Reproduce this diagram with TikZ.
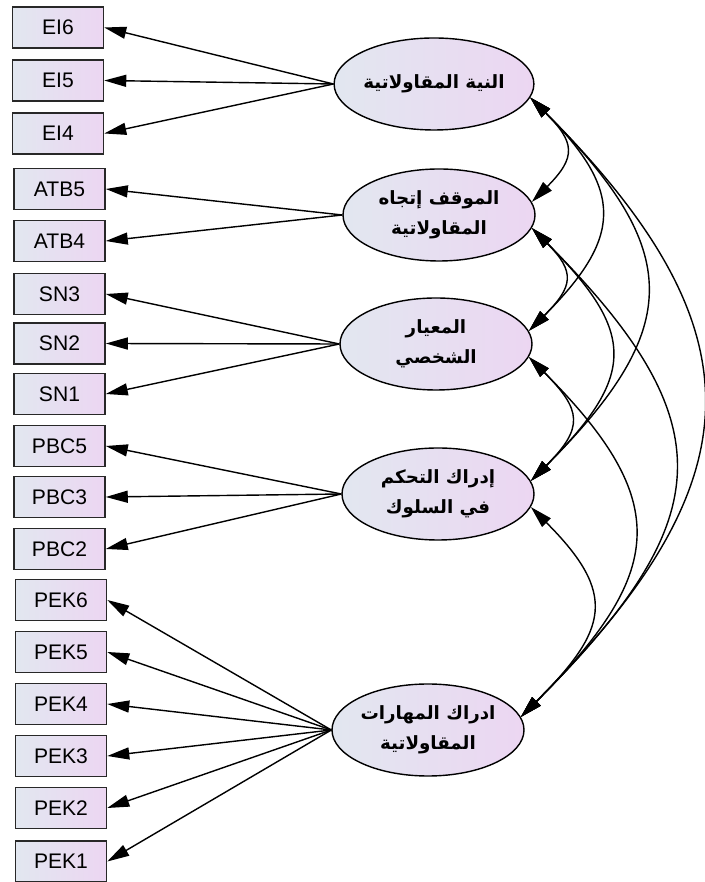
\documentclass[tikz,border=0pt]{standalone}
\usepackage{fontspec}
\setmainfont{Liberation Sans}
\newfontfamily\arabicfont[Script=Arabic]{DejaVu Sans}
\TeXXeTstate=1
\usetikzlibrary{arrows.meta,shapes.geometric}

% Changing color 226 231 240 / 236 214 242
\definecolor{r226g231b240}{rgb}{0.886275,0.905882,0.941176}
\definecolor{r236g214b242}{rgb}{0.925490,0.839216,0.949020}
\definecolor{r40g40b40}{rgb}{0.156863,0.156863,0.156863}

\tikzset{
  obsbox/.style={draw=r40g40b40, line width=1.1pt, left color=r226g231b240, right color=r236g214b242,
    minimum width=2.275cm, minimum height=1.025cm, inner sep=0pt, font=\fontsize{15}{18}\selectfont},
  latent/.style={ellipse, draw, line width=1pt, left color=r226g231b240, right color=r236g214b242,
    minimum width=4.8cm, minimum height=2.3cm, inner sep=0pt, align=center,
    font=\arabicfont\bfseries\fontsize{13}{21}\selectfont},
  loading/.style={-{Triangle[length=5.5mm,width=3mm]}, line width=1pt},
  cov/.style={{Triangle[length=5.5mm,width=3mm]}-{Triangle[length=5.5mm,width=3mm]},
    line width=1pt, out=-45, in=45, looseness=1.5}
}

\begin{document}
\begin{tikzpicture}
  \useasboundingbox (0,0) rectangle (17.600000,22.050000);

  % Drawing box EI
  \node[obsbox] (EI6) at (1.450000,21.362500) {EI6};
  \node[obsbox] (EI5) at (1.450000,20.037500) {EI5};
  \node[obsbox] (EI4) at (1.450000,18.712500) {EI4};

  % Drawing box ATB
  \node[obsbox] (ATB5) at (1.487500,17.325000) {ATB5};
  \node[obsbox] (ATB4) at (1.487500,16.025000) {ATB4};

  % Drawing box SN
  \node[obsbox] (SN3) at (1.487500,14.700000) {SN3};
  \node[obsbox] (SN2) at (1.487500,13.462500) {SN2};
  \node[obsbox] (SN1) at (1.487500,12.200000) {SN1};

  % Drawing box PBC
  \node[obsbox] (PBC5) at (1.487500,10.900000) {PBC5};
  \node[obsbox] (PBC3) at (1.487500,9.625000) {PBC3};
  \node[obsbox] (PBC2) at (1.487500,8.325000) {PBC2};

  % Drawing box PEK
  \node[obsbox] (PEK6) at (1.525000,7.050000) {PEK6};
  \node[obsbox] (PEK5) at (1.525000,5.750000) {PEK5};
  \node[obsbox] (PEK4) at (1.525000,4.450000) {PEK4};
  \node[obsbox] (PEK3) at (1.525000,3.150000) {PEK3};
  \node[obsbox] (PEK2) at (1.525000,1.850000) {PEK2};
  \node[obsbox] (PEK1) at (1.525000,0.512500) {PEK1};

  % Drawing ellipse EI ATB SN PBC PEK
  \node[latent] (EI) at (10.850000,19.950000) {\beginR النية المقاولاتية\endR};
  \node[latent] (ATB) at (10.975000,16.675000) {\beginR الموقف إتجاه\endR\\\beginR المقاولاتية\endR};
  \node[latent] (SN) at (10.900000,13.450000) {\beginR المعيار\endR\\\beginR الشخصي\endR};
  \node[latent] (PBC) at (10.950000,9.700000) {\beginR إدراك التحكم\endR\\\beginR في السلوك\endR};
  \node[latent] (PEK) at (10.700000,3.800000) {\beginR ادراك المهارات\endR\\\beginR المقاولاتية\endR};

  % Drawing loadings
  \draw[loading] (EI.west) -- (EI6.east);
  \draw[loading] (EI.west) -- (EI5.east);
  \draw[loading] (EI.west) -- (EI4.east);
  \draw[loading] (ATB.west) -- (ATB5.east);
  \draw[loading] (ATB.west) -- (ATB4.east);
  \draw[loading] (SN.west) -- (SN3.east);
  \draw[loading] (SN.west) -- (SN2.east);
  \draw[loading] (SN.west) -- (SN1.east);
  \draw[loading] (PBC.west) -- (PBC5.east);
  \draw[loading] (PBC.west) -- (PBC3.east);
  \draw[loading] (PBC.west) -- (PBC2.east);
  \draw[loading] (PEK.west) -- (PEK6.east);
  \draw[loading] (PEK.west) -- (PEK5.east);
  \draw[loading] (PEK.west) -- (PEK4.east);
  \draw[loading] (PEK.west) -- (PEK3.east);
  \draw[loading] (PEK.west) -- (PEK2.east);
  \draw[loading] (PEK.west) -- (PEK1.east);

  % Drawing covariances
  \draw[cov, looseness=1.55] (EI.-8) to (ATB.8);
  \draw[cov, looseness=1.45] (EI.-8) to (SN.8);
  \draw[cov, looseness=1.45] (EI.-8) to (PBC.8);
  \draw[cov, looseness=1.37] (EI.-8) to (PEK.8);
  \draw[cov, looseness=1.55] (ATB.-8) to (SN.8);
  \draw[cov] (ATB.-8) to (PBC.8);
  \draw[cov, looseness=1.45] (ATB.-8) to (PEK.8);
  \draw[cov, looseness=1.55] (SN.-8) to (PBC.8);
  \draw[cov, looseness=1.45] (SN.-8) to (PEK.8);
  \draw[cov, looseness=1.5] (PBC.-8) to (PEK.8);
\end{tikzpicture}
\end{document}
